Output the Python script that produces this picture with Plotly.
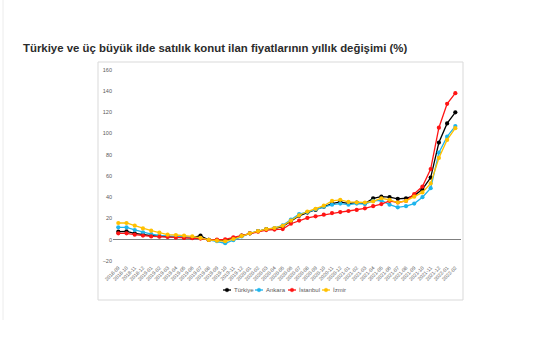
import plotly.graph_objects as go

months = ["2018-09", "2018-10", "2018-11", "2018-12",
          "2019-01", "2019-02", "2019-03", "2019-04", "2019-05", "2019-06",
          "2019-07", "2019-08", "2019-09", "2019-10", "2019-11", "2019-12",
          "2020-01", "2020-02", "2020-03", "2020-04", "2020-05", "2020-06",
          "2020-07", "2020-08", "2020-09", "2020-10", "2020-11", "2020-12",
          "2021-01", "2021-02", "2021-03", "2021-04", "2021-05", "2021-06",
          "2021-07", "2021-08", "2021-09", "2021-10", "2021-11", "2021-12",
          "2022-01", "2022-02"]

turkiye = [7.5, 7.8, 6.0, 4.7, 3.8, 3.2, 3.0, 2.5, 2.0, 1.8,
           3.8, -0.3, -0.5, -1.0, 1.5, 3.8, 6.0, 8.0, 10.0, 10.5,
           12.5, 17.5, 22.5, 25.5, 28.0, 31.0, 34.0, 35.5, 34.0, 35.0,
           34.0, 39.0, 40.5, 40.0, 38.5, 39.0, 41.5, 47.5, 58.5, 91.5,
           109.5, 120.0]
ankara = [11.6, 11.6, 9.1, 6.9, 5.3, 4.0, 3.5, 3.0, 2.5, 2.0,
          1.5, -0.3, -1.5, -3.4, -0.5, 3.0, 6.0, 8.0, 9.5, 11.0,
          13.5, 19.0, 24.0, 26.0, 28.5, 31.0, 33.0, 34.0, 33.0, 34.0,
          33.5, 36.5, 37.0, 33.0, 30.5, 31.5, 34.0, 40.0, 48.5, 82.0,
          97.0, 107.0]
istanbul = [6.0, 6.0, 4.7, 3.8, 3.0, 2.8, 2.5, 2.0, 1.6, 1.3,
            1.0, -0.3, 0.0, 0.3, 2.2, 3.8, 6.0, 7.5, 9.0, 9.5,
            10.0, 15.0, 18.0, 20.5, 22.0, 23.5, 25.0, 26.0, 27.0, 28.0,
            29.5, 31.5, 33.5, 36.5, 35.0, 36.5, 43.0, 50.0, 66.5, 105.5,
            128.0, 138.0]
izmir = [15.7, 15.7, 13.2, 10.6, 8.5, 6.6, 4.7, 4.4, 3.8, 3.1,
         1.6, -0.3, -1.0, -1.5, 0.5, 3.5, 6.0, 8.0, 10.0, 11.0,
         13.0, 18.0, 23.0, 26.5, 29.0, 32.0, 36.5, 37.5, 35.5, 35.0,
         35.0, 36.0, 39.0, 37.5, 35.0, 36.5, 40.5, 44.5, 53.0, 77.0,
         94.0, 105.0]

series_names = ["Türkiye", "Ankara", "İstanbul", "İzmir"]
series_values = [turkiye, ankara, istanbul, izmir]
series_colors = ["#000000", "#1EB4EC", "#FF1414", "#FFC000"]

y_ticks = [-20, 0, 20, 40, 60, 80, 100, 120, 140, 160]

# pixel helpers for layout decorations (plot area: x 113..461, y 64..263)
PL, PR, PT, PB = 113, 461, 64, 263
def px(x):
    return (x - PL) / (PR - PL)
def py(y):
    return (PB - y) / (PB - PT)

fig = go.Figure()
for name, vals, col in zip(series_names, series_values, series_colors):
    fig.add_trace(go.Scatter(
        x=months, y=vals, name=name, mode="lines+markers",
        line=dict(color=col, width=1.3),
        marker=dict(color=col, size=4.2),
        showlegend=False,
    ))

shapes = [dict(type="rect", xref="paper", yref="paper",
               x0=px(98), x1=px(463), y0=py(300), y1=py(62),
               line=dict(color="#d9d9d9", width=1), fillcolor="rgba(0,0,0,0)",
               layer="below"),
          dict(type="line", xref="paper", yref="paper",
               x0=px(3), x1=px(3), y0=py(0), y1=py(320),
               line=dict(color="#ececec", width=1))]
annotations = []
legend_x = [223, 255, 288, 322]
for lx, name, col in zip(legend_x, series_names, series_colors):
    shapes.append(dict(type="line", xref="paper", yref="paper",
                       x0=px(lx), x1=px(lx + 8), y0=py(290), y1=py(290),
                       line=dict(color=col, width=1.3)))
    shapes.append(dict(type="circle", xref="paper", yref="paper",
                       x0=px(lx + 2.2), x1=px(lx + 5.8), y0=py(291.8), y1=py(288.2),
                       line=dict(color=col, width=0.5), fillcolor=col))
    annotations.append(dict(xref="paper", yref="paper", x=px(lx + 9), y=py(290),
                            text=name, showarrow=False, xanchor="left", yanchor="middle",
                            font=dict(size=6, color="#595959", family="Liberation Sans")))

fig.update_layout(
    width=555, height=355,
    margin=dict(l=PL, r=555 - PR, t=PT, b=355 - PB),
    paper_bgcolor="white", plot_bgcolor="white",
    title=dict(text="Türkiye ve üç büyük ilde satılık konut ilan fiyatlarının yıllık değişimi (%)",
               x=23 / 555, xanchor="left", y=1 - 48 / 355, yanchor="middle",
               font=dict(family="Liberation Sans", size=11.4,
                         color="#2b2b2b", weight="bold")),
    shapes=shapes,
    annotations=annotations,
    xaxis=dict(type="category", range=[-0.645, 41.69], showgrid=False, showline=False,
               ticks="", tickangle=-45, tickfont=dict(size=5, color="#595959",
                                                       family="Liberation Sans")),
    yaxis=dict(range=[-22, 165.5], tickvals=y_ticks, showgrid=False, showline=False,
               zeroline=True, zerolinecolor="#7f7f7f", zerolinewidth=1.2,
               ticks="", tickfont=dict(size=5.5, color="#595959", family="Liberation Sans")),
)

fig.write_html("out.html")
